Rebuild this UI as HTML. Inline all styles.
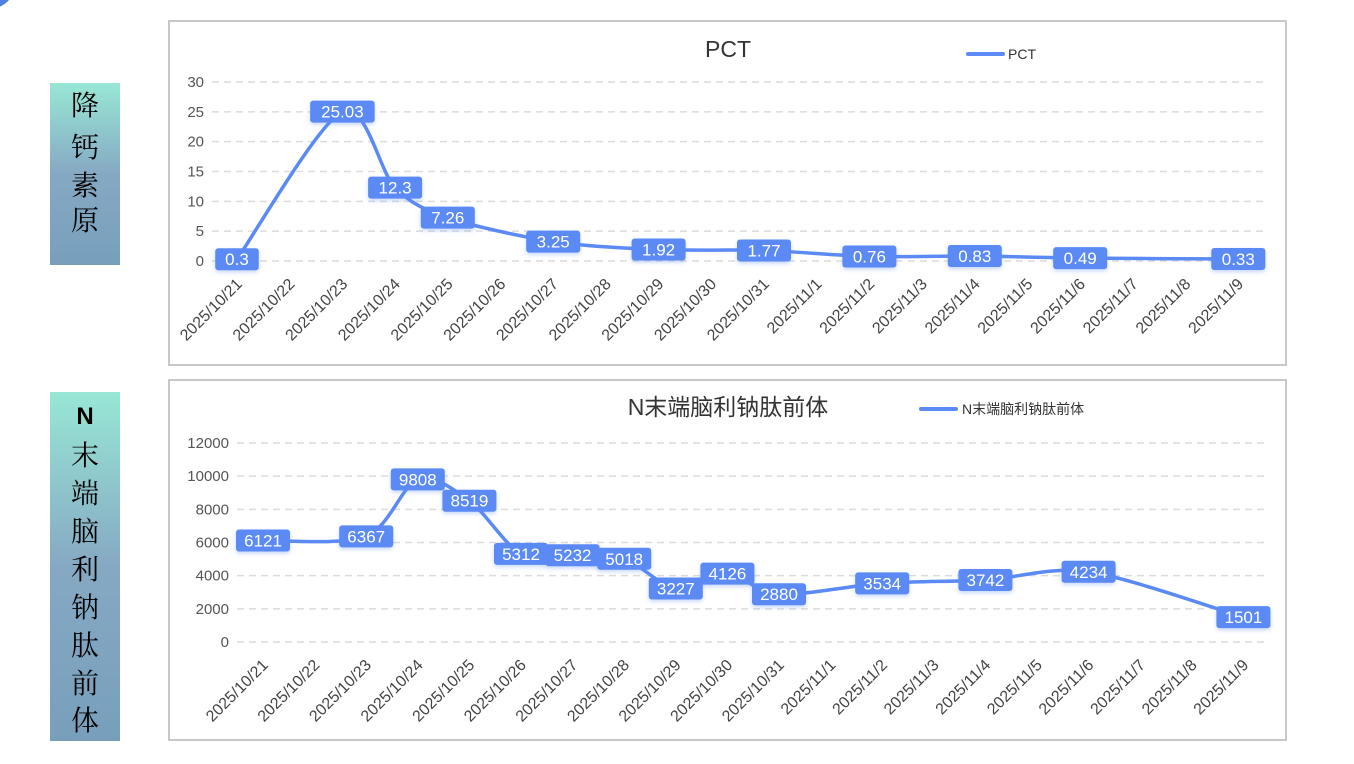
<!DOCTYPE html>
<html><head><meta charset="utf-8"><style>
body{margin:0;width:1354px;height:764px;background:#fff;overflow:hidden;font-family:"Liberation Sans","Noto Sans CJK SC",sans-serif}
svg{position:absolute;left:0;top:0}
</style></head><body>
<svg id="s" width="1354" height="764" xmlns="http://www.w3.org/2000/svg">
<defs>
<linearGradient id="g" x1="0" y1="0" x2="0" y2="1"><stop offset="0" stop-color="#98e7d5"/><stop offset="0.5" stop-color="#86a9c3"/><stop offset="1" stop-color="#779fbc"/></linearGradient>
<filter id="sh" x="-20%" y="-20%" width="140%" height="160%"><feDropShadow dx="0" dy="2" stdDeviation="2" flood-color="#5b8af5" flood-opacity="0.35"/></filter>
</defs>
<circle cx="-8" cy="-14" r="22" fill="#4f7fe0"/>
<rect x="50" y="83" width="70" height="182" fill="url(#g)"/>
<rect x="50" y="392" width="70" height="349" fill="url(#g)"/>
<g font-family="'Liberation Serif','Noto Serif CJK SC',serif" font-size="28" fill="#000" text-anchor="middle">
<text x="85" y="115">降</text><text x="85" y="157">钙</text><text x="85" y="195">素</text><text x="85" y="230">原</text>
<text x="85" y="424" font-family="'Liberation Sans',sans-serif" font-weight="bold" font-size="24">N</text>
<text x="85" y="465">末</text><text x="85" y="503">端</text><text x="85" y="541">脑</text><text x="85" y="579">利</text><text x="85" y="617">钠</text><text x="85" y="655">肽</text><text x="85" y="693">前</text><text x="85" y="730">体</text>
</g>
<rect x="169" y="21" width="1117" height="344" fill="none" stroke="#c8c8c8" stroke-width="2"/>
<rect x="169" y="380" width="1117" height="360" fill="none" stroke="#c8c8c8" stroke-width="2"/>
<text x="728" y="57" font-size="23" fill="#333" text-anchor="middle">PCT</text>
<line x1="968" y1="54" x2="1003" y2="54" stroke="#5b8af5" stroke-width="4" stroke-linecap="round"/>
<text x="1008" y="59" font-size="14" fill="#333">PCT</text>
<text x="728" y="415" font-size="23" fill="#333" text-anchor="middle">N末端脑利钠肽前体</text>
<line x1="921" y1="409" x2="956" y2="409" stroke="#5b8af5" stroke-width="4" stroke-linecap="round"/>
<text x="962" y="414" font-size="14" fill="#333">N末端脑利钠肽前体</text>
<g id="c"></g>
</svg>
<script>
var NS="http://www.w3.org/2000/svg",G=document.getElementById('c');
function el(t,a,txt){var e=document.createElementNS(NS,t);for(var k in a)e.setAttribute(k,a[k]);if(txt!=null)e.textContent=txt;G.appendChild(e);return e;}
var dates=[];for(var d=21;d<=31;d++)dates.push('2025/10/'+d);for(var d=1;d<=9;d++)dates.push('2025/11/'+d);
function chart(o){
  o.ticks.forEach(function(t){var y=o.y0-t*o.sy;
    el('line',{x1:o.gx1,x2:1268,y1:y,y2:y,stroke:'#dcdcdc','stroke-width':1.5,'stroke-dasharray':'7,5'});
    el('text',{x:o.gx1-8,y:y+5,'font-size':15,fill:'#555','text-anchor':'end'},t);});
  dates.forEach(function(s,i){var x=o.x0+i*o.dx;
    el('text',{x:x+6,y:o.ly,'font-size':16,fill:'#444','text-anchor':'end',transform:'rotate(-45 '+(x+6)+' '+o.ly+')'},s);});
  var pts=o.data.map(function(p){return [o.x0+p[0]*o.dx,o.y0-p[1]*o.sy,p[1]];});
  var d='M'+pts[0][0]+','+pts[0][1];
  for(var i=0;i<pts.length-1;i++){var p0=pts[Math.max(i-1,0)],p1=pts[i],p2=pts[i+1],p3=pts[Math.min(i+2,pts.length-1)],k=0.15;
    d+=' C'+(p1[0]+(p2[0]-p0[0])*k)+','+(p1[1]+(p2[1]-p0[1])*k)+' '+(p2[0]-(p3[0]-p1[0])*k)+','+(p2[1]-(p3[1]-p1[1])*k)+' '+p2[0]+','+p2[1];}
  el('path',{d:d,fill:'none',stroke:'#5b8af5','stroke-width':3.5,'stroke-linejoin':'round'});
  pts.forEach(function(p){var s=String(p[2]);var w=s.length*10.5+12;
    el('rect',{x:p[0]-w/2,y:p[1]-11,width:w,height:22,rx:3,fill:'#5b8af5',filter:'url(#sh)'});
    el('text',{x:p[0],y:p[1]+6,'font-size':17,fill:'#fff','text-anchor':'middle'},s);});
}
chart({x0:237,dx:52.7,y0:261,sy:5.967,gx1:212,ly:285,ticks:[0,5,10,15,20,25,30],
 data:[[0,0.3],[2,25.03],[3,12.3],[4,7.26],[6,3.25],[8,1.92],[10,1.77],[12,0.76],[14,0.83],[16,0.49],[19,0.33]]});
chart({x0:263,dx:51.6,y0:642,sy:0.016583,gx1:237,ly:666,ticks:[0,2000,4000,6000,8000,10000,12000],
 data:[[0,6121],[2,6367],[3,9808],[4,8519],[5,5312],[6,5232],[7,5018],[8,3227],[9,4126],[10,2880],[12,3534],[14,3742],[16,4234],[19,1501]]});
</script>
</body></html>
